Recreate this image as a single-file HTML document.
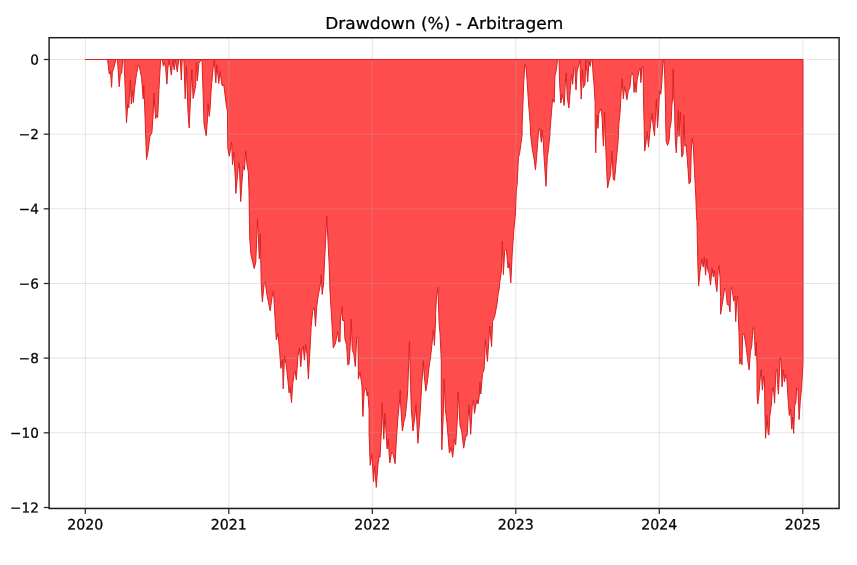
<!DOCTYPE html>
<html><head><meta charset="utf-8"><title>Drawdown (%) - Arbitragem</title>
<style>
html,body{margin:0;padding:0;background:#fff;}
svg{display:block;}
text{font-family:"DejaVu Sans","Liberation Sans",sans-serif;fill:#000;stroke:#000;stroke-width:0.25px;text-rendering:geometricPrecision;}
</style></head><body>
<svg width="857" height="565" viewBox="0 0 857 565">
<rect width="857" height="565" fill="#ffffff"/>
<path d="M85.3,59.5 L85.3,59.5 L107.6,59.5 L109.3,74.1 L110.5,71.2 L111.6,87.3 L112.3,72.5 L113.6,68.7 L115.9,59.5 L117.5,59.5 L119.2,86.7 L120.4,73.8 L121.7,73.2 L122.7,59.5 L124.0,59.5 L126.5,122.8 L127.8,103.3 L128.8,107.8 L130.3,79.6 L131.3,104.0 L132.4,90.5 L133.3,102.7 L134.6,87.9 L136.5,73.8 L138.4,64.8 L139.3,66.1 L140.3,71.2 L141.6,77.7 L143.2,98.8 L143.8,85.4 L144.8,110.0 L146.5,159.4 L148.0,151.7 L149.9,136.3 L151.9,132.5 L153.2,113.8 L153.8,93.1 L155.7,118.7 L156.6,114.9 L157.7,117.5 L158.9,90.5 L160.6,60.0 L162.2,59.5 L163.4,66.1 L164.7,62.3 L165.7,68.7 L166.9,84.1 L167.9,67.4 L169.2,60.0 L171.3,75.1 L172.8,60.0 L174.2,70.0 L175.4,60.0 L177.3,71.9 L178.7,60.0 L180.3,59.5 L181.3,80.0 L182.2,60.0 L183.9,60.0 L185.2,98.8 L186.4,66.1 L188.0,112.3 L189.2,128.0 L191.8,69.3 L193.1,98.5 L195.7,85.4 L196.4,62.3 L197.3,80.9 L198.9,63.5 L200.8,60.0 L202.1,60.0 L204.0,123.9 L206.2,135.7 L207.5,118.7 L208.1,103.3 L209.2,116.4 L210.1,108.5 L211.1,90.5 L213.0,68.7 L214.3,60.0 L215.8,82.8 L216.8,64.8 L218.8,83.5 L220.1,71.2 L222.0,85.4 L223.9,85.4 L226.5,107.2 L227.4,110.0 L227.8,148.5 L229.3,156.2 L231.6,142.1 L232.5,164.6 L233.8,152.4 L235.5,181.9 L235.8,193.5 L238.1,168.8 L239.3,162.6 L240.7,201.6 L242.6,172.7 L243.5,166.0 L244.4,170.0 L245.7,151.0 L247.0,165.0 L248.3,172.0 L249.0,190.7 L249.7,237.0 L250.9,254.5 L254.2,268.6 L255.8,262.2 L256.9,232.0 L257.5,219.0 L258.1,232.0 L259.3,259.0 L260.3,234.0 L261.2,281.5 L262.0,296.9 L262.4,301.9 L264.2,283.1 L265.3,282.2 L266.9,294.5 L270.2,310.8 L271.9,297.8 L273.5,291.2 L274.6,310.8 L275.6,327.2 L276.3,339.8 L278.0,333.3 L279.6,351.2 L280.9,368.4 L282.5,359.4 L283.2,388.8 L284.5,356.1 L286.1,364.3 L287.8,379.0 L289.1,392.9 L290.2,387.2 L291.5,402.7 L292.7,383.9 L294.3,372.5 L295.1,370.8 L296.3,379.8 L297.9,356.1 L299.5,348.0 L300.8,366.8 L302.1,349.6 L303.3,346.3 L304.4,360.2 L305.7,344.7 L307.1,354.5 L308.4,379.0 L309.5,357.8 L311.0,330.0 L311.1,327.2 L312.7,310.8 L314.3,307.6 L315.5,326.4 L316.8,305.9 L318.4,294.5 L320.1,286.3 L321.2,274.9 L322.2,294.5 L323.6,283.0 L324.5,262.0 L326.8,216.3 L329.2,265.3 L330.0,291.5 L331.5,315.7 L333.3,348.0 L335.2,343.9 L336.4,338.6 L337.7,331.3 L338.8,341.9 L340.0,341.9 L340.5,319.0 L342.1,306.8 L342.6,320.6 L344.2,320.6 L344.9,339.0 L346.6,344.7 L347.9,365.1 L349.0,364.3 L350.2,346.3 L351.2,319.0 L352.3,349.6 L353.9,354.5 L355.3,366.5 L356.7,337.5 L358.0,337.4 L358.4,379.0 L360.0,372.0 L362.0,386.0 L362.9,416.5 L364.2,391.0 L366.1,388.3 L367.2,396.0 L367.8,392.0 L369.1,410.0 L369.1,432.7 L370.2,465.3 L371.9,453.9 L373.5,481.7 L374.6,465.3 L376.3,487.4 L377.9,465.3 L379.2,455.5 L380.0,457.2 L381.7,424.5 L382.1,403.3 L383.8,439.2 L384.9,413.1 L387.1,449.0 L388.2,439.2 L389.8,462.9 L391.5,452.3 L393.1,453.9 L395.1,463.7 L396.4,439.2 L398.0,416.3 L399.6,400.0 L400.3,390.2 L400.4,400.0 L402.4,431.0 L404.0,421.2 L405.3,416.3 L407.0,400.0 L407.8,388.6 L409.4,341.2 L411.0,400.0 L411.4,409.8 L413.0,431.0 L414.7,418.0 L416.0,404.9 L417.9,443.3 L419.6,421.2 L420.9,400.0 L421.7,385.3 L423.3,360.8 L424.1,373.9 L425.8,391.1 L427.4,382.1 L429.0,367.4 L430.7,355.9 L432.3,341.2 L433.4,329.8 L434.4,345.3 L435.6,320.0 L435.6,313.5 L436.4,298.8 L438.0,287.4 L438.5,305.4 L439.2,325.0 L440.0,333.1 L441.3,360.8 L441.3,400.0 L441.8,449.8 L443.2,416.3 L444.2,378.8 L445.4,409.8 L447.0,422.9 L449.4,453.1 L451.1,447.4 L452.7,457.2 L454.4,439.2 L455.7,444.9 L457.3,419.6 L458.2,392.0 L460.1,426.1 L461.7,431.0 L463.7,448.2 L465.5,437.6 L467.1,435.1 L468.2,416.3 L469.1,404.9 L470.7,434.3 L472.3,404.9 L473.5,400.0 L474.5,413.5 L475.6,406.0 L477.0,399.9 L478.1,404.0 L479.2,396.5 L480.0,381.8 L480.8,394.0 L482.5,373.6 L484.1,369.5 L485.4,339.3 L487.4,361.4 L488.7,342.6 L489.8,326.2 L491.6,346.7 L492.6,321.3 L494.7,316.4 L495.9,309.9 L496.9,305.0 L498.2,293.4 L499.0,290.1 L499.8,282.0 L501.5,270.5 L502.3,241.1 L503.4,274.6 L504.7,250.1 L506.4,249.3 L508.0,268.1 L509.3,263.2 L510.8,282.8 L512.1,255.8 L513.7,231.3 L515.3,215.0 L516.3,190.3 L517.2,183.8 L518.4,157.7 L519.7,152.8 L520.8,144.6 L522.1,134.8 L522.1,126.8 L523.7,82.7 L524.8,64.4 L526.1,68.0 L527.0,79.4 L528.6,103.9 L530.2,123.5 L530.6,134.8 L532.3,149.5 L533.9,157.7 L535.5,169.9 L537.2,149.5 L538.5,131.5 L539.6,128.3 L540.4,133.2 L541.3,142.2 L542.1,129.9 L543.4,143.0 L544.0,156.0 L546.0,186.3 L547.3,157.7 L548.6,147.9 L549.9,134.8 L549.9,131.7 L551.5,112.1 L552.6,99.0 L554.2,102.3 L554.9,76.1 L556.4,69.6 L557.5,59.8 L558.5,59.5 L559.1,59.8 L559.6,82.7 L560.8,103.1 L562.1,94.1 L563.2,99.0 L564.2,105.5 L565.3,82.7 L566.2,72.9 L567.3,97.4 L568.9,108.0 L570.2,90.8 L571.5,74.5 L572.7,84.3 L573.8,68.0 L574.8,67.2 L576.0,90.0 L577.1,71.2 L578.4,66.3 L580.0,60.6 L581.2,99.0 L582.5,69.6 L583.3,87.6 L585.0,84.3 L585.8,60.1 L586.9,71.2 L587.7,81.9 L589.0,61.4 L590.2,66.3 L591.2,59.8 L592.3,59.8 L593.1,74.5 L593.9,82.7 L595.1,102.3 L595.2,125.0 L595.7,152.8 L596.5,124.0 L597.2,115.3 L598.0,128.4 L598.8,113.7 L599.7,111.3 L601.0,108.8 L602.1,117.0 L602.8,135.0 L603.4,146.2 L604.2,128.0 L604.6,112.1 L605.2,130.0 L605.5,141.3 L606.7,170.7 L607.6,187.9 L609.1,180.5 L610.4,175.6 L612.0,151.1 L613.2,178.9 L614.5,180.5 L616.5,157.7 L618.1,141.3 L618.9,123.5 L620.1,112.1 L621.2,90.8 L622.2,78.6 L623.3,99.0 L624.5,86.8 L625.8,92.5 L626.9,99.8 L628.2,90.8 L629.9,87.6 L631.2,74.5 L632.3,72.9 L633.3,76.1 L634.0,92.5 L635.3,82.7 L636.1,92.5 L637.2,79.4 L639.2,70.4 L640.4,68.0 L640.8,82.7 L642.1,67.2 L643.1,66.3 L643.5,99.0 L644.1,123.5 L644.7,151.1 L646.4,139.7 L647.2,131.5 L648.5,147.1 L649.6,134.8 L650.6,123.5 L652.0,113.7 L653.1,125.2 L654.5,135.7 L655.5,115.3 L656.4,99.0 L657.5,127.6 L658.5,112.1 L659.6,90.8 L660.8,94.1 L661.8,82.7 L662.9,61.4 L663.7,59.8 L664.7,74.5 L665.5,103.9 L665.8,126.8 L666.2,141.3 L667.6,145.4 L669.2,139.7 L669.9,128.4 L671.1,121.9 L671.9,105.5 L672.5,99.0 L673.2,68.8 L673.8,99.0 L674.5,103.0 L675.0,128.0 L675.4,141.3 L676.3,152.8 L677.4,130.0 L678.3,110.4 L679.0,136.5 L680.3,112.1 L680.8,125.0 L681.0,141.3 L681.8,156.9 L683.1,154.4 L683.7,115.3 L684.5,128.4 L684.8,146.2 L686.1,144.6 L687.2,157.7 L688.4,174.0 L689.0,183.8 L690.5,182.2 L691.3,149.5 L692.4,138.1 L693.3,146.2 L694.6,172.4 L695.9,198.5 L696.5,216.5 L697.0,221.3 L697.8,262.2 L698.6,285.9 L700.2,270.3 L701.9,258.9 L703.2,267.1 L704.3,257.3 L705.6,275.2 L706.8,258.9 L707.9,270.3 L709.2,273.6 L710.5,285.1 L712.1,267.9 L713.3,276.9 L714.4,270.3 L715.7,283.4 L716.9,291.6 L718.2,270.3 L719.0,265.4 L720.0,276.9 L720.6,296.5 L720.6,314.3 L721.9,306.1 L723.5,296.3 L724.6,288.2 L725.9,289.8 L727.2,304.5 L728.9,304.5 L730.0,311.9 L730.8,289.8 L731.7,287.4 L732.8,294.7 L733.8,301.2 L734.9,296.3 L735.7,321.7 L736.9,298.0 L737.7,296.3 L738.4,317.6 L739.0,332.3 L739.8,364.1 L741.0,358.4 L742.0,364.9 L742.6,335.5 L743.9,333.9 L745.5,342.1 L747.5,358.4 L749.1,369.9 L750.4,351.9 L751.8,345.3 L752.9,329.0 L753.7,327.4 L754.5,335.5 L755.3,356.0 L756.2,342.1 L757.0,364.9 L757.0,379.5 L757.1,395.8 L757.8,404.0 L759.1,392.6 L760.4,376.2 L761.2,369.7 L762.4,390.1 L763.7,376.2 L764.5,379.5 L765.0,417.1 L765.6,438.3 L767.0,415.4 L768.1,433.4 L768.9,435.1 L769.7,417.1 L771.4,404.0 L772.2,390.9 L773.0,387.7 L773.8,392.6 L774.6,403.2 L775.8,371.3 L776.8,369.7 L777.6,384.4 L778.4,394.2 L779.5,371.3 L780.3,357.4 L781.2,361.5 L782.0,386.9 L783.3,369.7 L784.4,381.9 L785.6,374.6 L786.9,379.5 L788.2,400.7 L789.3,415.4 L790.5,408.9 L791.8,429.3 L792.6,417.1 L793.7,433.4 L794.7,405.6 L795.9,402.4 L796.7,387.7 L798.0,390.1 L799.1,419.5 L800.3,400.7 L801.6,387.7 L802.9,364.8 L803.0,362.0 L803.0,59.5 Z" fill="#ff0000" fill-opacity="0.7" stroke="none"/>
<g stroke="#b0b0b0" stroke-opacity="0.3" stroke-width="1.1" fill="none"><line x1="85.3" y1="37.7" x2="85.3" y2="508.5"/><line x1="228.8" y1="37.7" x2="228.8" y2="508.5"/><line x1="372.3" y1="37.7" x2="372.3" y2="508.5"/><line x1="515.8" y1="37.7" x2="515.8" y2="508.5"/><line x1="659.3" y1="37.7" x2="659.3" y2="508.5"/><line x1="802.8" y1="37.7" x2="802.8" y2="508.5"/><line x1="49.1" y1="59.5" x2="839.1" y2="59.5"/><line x1="49.1" y1="134.2" x2="839.1" y2="134.2"/><line x1="49.1" y1="208.8" x2="839.1" y2="208.8"/><line x1="49.1" y1="283.5" x2="839.1" y2="283.5"/><line x1="49.1" y1="358.1" x2="839.1" y2="358.1"/><line x1="49.1" y1="432.8" x2="839.1" y2="432.8"/><line x1="49.1" y1="507.5" x2="839.1" y2="507.5"/></g>
<path d="M85.3,59.5 L85.3,59.5 L107.6,59.5 L109.3,74.1 L110.5,71.2 L111.6,87.3 L112.3,72.5 L113.6,68.7 L115.9,59.5 L117.5,59.5 L119.2,86.7 L120.4,73.8 L121.7,73.2 L122.7,59.5 L124.0,59.5 L126.5,122.8 L127.8,103.3 L128.8,107.8 L130.3,79.6 L131.3,104.0 L132.4,90.5 L133.3,102.7 L134.6,87.9 L136.5,73.8 L138.4,64.8 L139.3,66.1 L140.3,71.2 L141.6,77.7 L143.2,98.8 L143.8,85.4 L144.8,110.0 L146.5,159.4 L148.0,151.7 L149.9,136.3 L151.9,132.5 L153.2,113.8 L153.8,93.1 L155.7,118.7 L156.6,114.9 L157.7,117.5 L158.9,90.5 L160.6,60.0 L162.2,59.5 L163.4,66.1 L164.7,62.3 L165.7,68.7 L166.9,84.1 L167.9,67.4 L169.2,60.0 L171.3,75.1 L172.8,60.0 L174.2,70.0 L175.4,60.0 L177.3,71.9 L178.7,60.0 L180.3,59.5 L181.3,80.0 L182.2,60.0 L183.9,60.0 L185.2,98.8 L186.4,66.1 L188.0,112.3 L189.2,128.0 L191.8,69.3 L193.1,98.5 L195.7,85.4 L196.4,62.3 L197.3,80.9 L198.9,63.5 L200.8,60.0 L202.1,60.0 L204.0,123.9 L206.2,135.7 L207.5,118.7 L208.1,103.3 L209.2,116.4 L210.1,108.5 L211.1,90.5 L213.0,68.7 L214.3,60.0 L215.8,82.8 L216.8,64.8 L218.8,83.5 L220.1,71.2 L222.0,85.4 L223.9,85.4 L226.5,107.2 L227.4,110.0 L227.8,148.5 L229.3,156.2 L231.6,142.1 L232.5,164.6 L233.8,152.4 L235.5,181.9 L235.8,193.5 L238.1,168.8 L239.3,162.6 L240.7,201.6 L242.6,172.7 L243.5,166.0 L244.4,170.0 L245.7,151.0 L247.0,165.0 L248.3,172.0 L249.0,190.7 L249.7,237.0 L250.9,254.5 L254.2,268.6 L255.8,262.2 L256.9,232.0 L257.5,219.0 L258.1,232.0 L259.3,259.0 L260.3,234.0 L261.2,281.5 L262.0,296.9 L262.4,301.9 L264.2,283.1 L265.3,282.2 L266.9,294.5 L270.2,310.8 L271.9,297.8 L273.5,291.2 L274.6,310.8 L275.6,327.2 L276.3,339.8 L278.0,333.3 L279.6,351.2 L280.9,368.4 L282.5,359.4 L283.2,388.8 L284.5,356.1 L286.1,364.3 L287.8,379.0 L289.1,392.9 L290.2,387.2 L291.5,402.7 L292.7,383.9 L294.3,372.5 L295.1,370.8 L296.3,379.8 L297.9,356.1 L299.5,348.0 L300.8,366.8 L302.1,349.6 L303.3,346.3 L304.4,360.2 L305.7,344.7 L307.1,354.5 L308.4,379.0 L309.5,357.8 L311.0,330.0 L311.1,327.2 L312.7,310.8 L314.3,307.6 L315.5,326.4 L316.8,305.9 L318.4,294.5 L320.1,286.3 L321.2,274.9 L322.2,294.5 L323.6,283.0 L324.5,262.0 L326.8,216.3 L329.2,265.3 L330.0,291.5 L331.5,315.7 L333.3,348.0 L335.2,343.9 L336.4,338.6 L337.7,331.3 L338.8,341.9 L340.0,341.9 L340.5,319.0 L342.1,306.8 L342.6,320.6 L344.2,320.6 L344.9,339.0 L346.6,344.7 L347.9,365.1 L349.0,364.3 L350.2,346.3 L351.2,319.0 L352.3,349.6 L353.9,354.5 L355.3,366.5 L356.7,337.5 L358.0,337.4 L358.4,379.0 L360.0,372.0 L362.0,386.0 L362.9,416.5 L364.2,391.0 L366.1,388.3 L367.2,396.0 L367.8,392.0 L369.1,410.0 L369.1,432.7 L370.2,465.3 L371.9,453.9 L373.5,481.7 L374.6,465.3 L376.3,487.4 L377.9,465.3 L379.2,455.5 L380.0,457.2 L381.7,424.5 L382.1,403.3 L383.8,439.2 L384.9,413.1 L387.1,449.0 L388.2,439.2 L389.8,462.9 L391.5,452.3 L393.1,453.9 L395.1,463.7 L396.4,439.2 L398.0,416.3 L399.6,400.0 L400.3,390.2 L400.4,400.0 L402.4,431.0 L404.0,421.2 L405.3,416.3 L407.0,400.0 L407.8,388.6 L409.4,341.2 L411.0,400.0 L411.4,409.8 L413.0,431.0 L414.7,418.0 L416.0,404.9 L417.9,443.3 L419.6,421.2 L420.9,400.0 L421.7,385.3 L423.3,360.8 L424.1,373.9 L425.8,391.1 L427.4,382.1 L429.0,367.4 L430.7,355.9 L432.3,341.2 L433.4,329.8 L434.4,345.3 L435.6,320.0 L435.6,313.5 L436.4,298.8 L438.0,287.4 L438.5,305.4 L439.2,325.0 L440.0,333.1 L441.3,360.8 L441.3,400.0 L441.8,449.8 L443.2,416.3 L444.2,378.8 L445.4,409.8 L447.0,422.9 L449.4,453.1 L451.1,447.4 L452.7,457.2 L454.4,439.2 L455.7,444.9 L457.3,419.6 L458.2,392.0 L460.1,426.1 L461.7,431.0 L463.7,448.2 L465.5,437.6 L467.1,435.1 L468.2,416.3 L469.1,404.9 L470.7,434.3 L472.3,404.9 L473.5,400.0 L474.5,413.5 L475.6,406.0 L477.0,399.9 L478.1,404.0 L479.2,396.5 L480.0,381.8 L480.8,394.0 L482.5,373.6 L484.1,369.5 L485.4,339.3 L487.4,361.4 L488.7,342.6 L489.8,326.2 L491.6,346.7 L492.6,321.3 L494.7,316.4 L495.9,309.9 L496.9,305.0 L498.2,293.4 L499.0,290.1 L499.8,282.0 L501.5,270.5 L502.3,241.1 L503.4,274.6 L504.7,250.1 L506.4,249.3 L508.0,268.1 L509.3,263.2 L510.8,282.8 L512.1,255.8 L513.7,231.3 L515.3,215.0 L516.3,190.3 L517.2,183.8 L518.4,157.7 L519.7,152.8 L520.8,144.6 L522.1,134.8 L522.1,126.8 L523.7,82.7 L524.8,64.4 L526.1,68.0 L527.0,79.4 L528.6,103.9 L530.2,123.5 L530.6,134.8 L532.3,149.5 L533.9,157.7 L535.5,169.9 L537.2,149.5 L538.5,131.5 L539.6,128.3 L540.4,133.2 L541.3,142.2 L542.1,129.9 L543.4,143.0 L544.0,156.0 L546.0,186.3 L547.3,157.7 L548.6,147.9 L549.9,134.8 L549.9,131.7 L551.5,112.1 L552.6,99.0 L554.2,102.3 L554.9,76.1 L556.4,69.6 L557.5,59.8 L558.5,59.5 L559.1,59.8 L559.6,82.7 L560.8,103.1 L562.1,94.1 L563.2,99.0 L564.2,105.5 L565.3,82.7 L566.2,72.9 L567.3,97.4 L568.9,108.0 L570.2,90.8 L571.5,74.5 L572.7,84.3 L573.8,68.0 L574.8,67.2 L576.0,90.0 L577.1,71.2 L578.4,66.3 L580.0,60.6 L581.2,99.0 L582.5,69.6 L583.3,87.6 L585.0,84.3 L585.8,60.1 L586.9,71.2 L587.7,81.9 L589.0,61.4 L590.2,66.3 L591.2,59.8 L592.3,59.8 L593.1,74.5 L593.9,82.7 L595.1,102.3 L595.2,125.0 L595.7,152.8 L596.5,124.0 L597.2,115.3 L598.0,128.4 L598.8,113.7 L599.7,111.3 L601.0,108.8 L602.1,117.0 L602.8,135.0 L603.4,146.2 L604.2,128.0 L604.6,112.1 L605.2,130.0 L605.5,141.3 L606.7,170.7 L607.6,187.9 L609.1,180.5 L610.4,175.6 L612.0,151.1 L613.2,178.9 L614.5,180.5 L616.5,157.7 L618.1,141.3 L618.9,123.5 L620.1,112.1 L621.2,90.8 L622.2,78.6 L623.3,99.0 L624.5,86.8 L625.8,92.5 L626.9,99.8 L628.2,90.8 L629.9,87.6 L631.2,74.5 L632.3,72.9 L633.3,76.1 L634.0,92.5 L635.3,82.7 L636.1,92.5 L637.2,79.4 L639.2,70.4 L640.4,68.0 L640.8,82.7 L642.1,67.2 L643.1,66.3 L643.5,99.0 L644.1,123.5 L644.7,151.1 L646.4,139.7 L647.2,131.5 L648.5,147.1 L649.6,134.8 L650.6,123.5 L652.0,113.7 L653.1,125.2 L654.5,135.7 L655.5,115.3 L656.4,99.0 L657.5,127.6 L658.5,112.1 L659.6,90.8 L660.8,94.1 L661.8,82.7 L662.9,61.4 L663.7,59.8 L664.7,74.5 L665.5,103.9 L665.8,126.8 L666.2,141.3 L667.6,145.4 L669.2,139.7 L669.9,128.4 L671.1,121.9 L671.9,105.5 L672.5,99.0 L673.2,68.8 L673.8,99.0 L674.5,103.0 L675.0,128.0 L675.4,141.3 L676.3,152.8 L677.4,130.0 L678.3,110.4 L679.0,136.5 L680.3,112.1 L680.8,125.0 L681.0,141.3 L681.8,156.9 L683.1,154.4 L683.7,115.3 L684.5,128.4 L684.8,146.2 L686.1,144.6 L687.2,157.7 L688.4,174.0 L689.0,183.8 L690.5,182.2 L691.3,149.5 L692.4,138.1 L693.3,146.2 L694.6,172.4 L695.9,198.5 L696.5,216.5 L697.0,221.3 L697.8,262.2 L698.6,285.9 L700.2,270.3 L701.9,258.9 L703.2,267.1 L704.3,257.3 L705.6,275.2 L706.8,258.9 L707.9,270.3 L709.2,273.6 L710.5,285.1 L712.1,267.9 L713.3,276.9 L714.4,270.3 L715.7,283.4 L716.9,291.6 L718.2,270.3 L719.0,265.4 L720.0,276.9 L720.6,296.5 L720.6,314.3 L721.9,306.1 L723.5,296.3 L724.6,288.2 L725.9,289.8 L727.2,304.5 L728.9,304.5 L730.0,311.9 L730.8,289.8 L731.7,287.4 L732.8,294.7 L733.8,301.2 L734.9,296.3 L735.7,321.7 L736.9,298.0 L737.7,296.3 L738.4,317.6 L739.0,332.3 L739.8,364.1 L741.0,358.4 L742.0,364.9 L742.6,335.5 L743.9,333.9 L745.5,342.1 L747.5,358.4 L749.1,369.9 L750.4,351.9 L751.8,345.3 L752.9,329.0 L753.7,327.4 L754.5,335.5 L755.3,356.0 L756.2,342.1 L757.0,364.9 L757.0,379.5 L757.1,395.8 L757.8,404.0 L759.1,392.6 L760.4,376.2 L761.2,369.7 L762.4,390.1 L763.7,376.2 L764.5,379.5 L765.0,417.1 L765.6,438.3 L767.0,415.4 L768.1,433.4 L768.9,435.1 L769.7,417.1 L771.4,404.0 L772.2,390.9 L773.0,387.7 L773.8,392.6 L774.6,403.2 L775.8,371.3 L776.8,369.7 L777.6,384.4 L778.4,394.2 L779.5,371.3 L780.3,357.4 L781.2,361.5 L782.0,386.9 L783.3,369.7 L784.4,381.9 L785.6,374.6 L786.9,379.5 L788.2,400.7 L789.3,415.4 L790.5,408.9 L791.8,429.3 L792.6,417.1 L793.7,433.4 L794.7,405.6 L795.9,402.4 L796.7,387.7 L798.0,390.1 L799.1,419.5 L800.3,400.7 L801.6,387.7 L802.9,364.8 L803.0,362.0 L803.0,59.5 Z" fill="none" stroke="#dc2022" stroke-width="1" stroke-linejoin="round"/>
<rect x="49.1" y="37.7" width="790.0" height="470.8" fill="none" stroke="#1c1c1c" stroke-width="1.45"/>
<g stroke="#222" stroke-width="1.2"><line x1="85.3" y1="508.5" x2="85.3" y2="513.9"/><line x1="228.8" y1="508.5" x2="228.8" y2="513.9"/><line x1="372.3" y1="508.5" x2="372.3" y2="513.9"/><line x1="515.8" y1="508.5" x2="515.8" y2="513.9"/><line x1="659.3" y1="508.5" x2="659.3" y2="513.9"/><line x1="802.8" y1="508.5" x2="802.8" y2="513.9"/><line x1="43.7" y1="59.5" x2="49.1" y2="59.5"/><line x1="43.7" y1="134.2" x2="49.1" y2="134.2"/><line x1="43.7" y1="208.8" x2="49.1" y2="208.8"/><line x1="43.7" y1="283.5" x2="49.1" y2="283.5"/><line x1="43.7" y1="358.1" x2="49.1" y2="358.1"/><line x1="43.7" y1="432.8" x2="49.1" y2="432.8"/><line x1="43.7" y1="507.5" x2="49.1" y2="507.5"/></g>
<g font-size="14.15px"><text transform="translate(85.3,529.5) scale(1,1.015) rotate(0.03)" text-anchor="middle">2020</text><text transform="translate(228.8,529.5) scale(1,1.015) rotate(0.03)" text-anchor="middle">2021</text><text transform="translate(372.3,529.5) scale(1,1.015) rotate(0.03)" text-anchor="middle">2022</text><text transform="translate(515.8,529.5) scale(1,1.015) rotate(0.03)" text-anchor="middle">2023</text><text transform="translate(659.3,529.5) scale(1,1.015) rotate(0.03)" text-anchor="middle">2024</text><text transform="translate(802.8,529.5) scale(1,1.015) rotate(0.03)" text-anchor="middle">2025</text><text transform="translate(38.8,64.5) rotate(0.03)" text-anchor="end" font-size="13.6px">0</text><text transform="translate(38.8,139.1) rotate(0.03)" text-anchor="end" font-size="13.6px">−2</text><text transform="translate(38.8,213.8) rotate(0.03)" text-anchor="end" font-size="13.6px">−4</text><text transform="translate(38.8,288.4) rotate(0.03)" text-anchor="end" font-size="13.6px">−6</text><text transform="translate(38.8,363.1) rotate(0.03)" text-anchor="end" font-size="13.6px">−8</text><text transform="translate(38.8,437.7) rotate(0.03)" text-anchor="end" font-size="13.6px">−10</text><text transform="translate(38.8,512.4) rotate(0.03)" text-anchor="end" font-size="13.6px">−12</text></g>
<text transform="translate(444.3,29) scale(1,0.965) rotate(0.02)" text-anchor="middle" font-size="17px">Drawdown (%) - Arbitragem</text>
</svg>
</body></html>
